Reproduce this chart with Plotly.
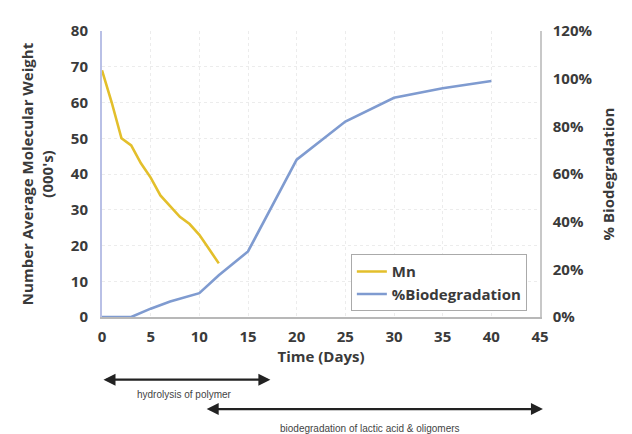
import plotly.graph_objects as go

mn_days = [0, 1, 2, 3, 4, 5, 6, 7, 8, 9, 10, 11, 12]
mn_values = [69, 60, 50, 48, 43, 39, 34, 31, 28, 26, 23, 19, 15]

bio_days = [0, 3, 5, 7, 10, 12, 15, 20, 25, 30, 35, 40]
bio_values = [0, 0, 0.035, 0.065, 0.10, 0.175, 0.275, 0.66, 0.82, 0.92, 0.96, 0.99]

x_ticks = [0, 5, 10, 15, 20, 25, 30, 35, 40, 45]
left_ticks = [0, 10, 20, 30, 40, 50, 60, 70, 80]
right_ticks = [0, 0.2, 0.4, 0.6, 0.8, 1.0, 1.2]

phase_labels = ["hydrolysis of polymer", "biodegradation of lactic acid & oligomers"]
phase_start = [0, 10.6]
phase_end = [17.3, 45.3]
label_centre = [8.5, 27.5]

FONT = "Open Sans"
TXT = "#3a3a3a"

fig = go.Figure()
fig.add_trace(go.Scatter(x=mn_days, y=mn_values, mode="lines", name="Mn",
                         line=dict(color="#e3bf2b", width=2.6)))
fig.add_trace(go.Scatter(x=bio_days, y=bio_values, mode="lines", name="%Biodegradation",
                         yaxis="y2", line=dict(color="#7f9bd0", width=2.6)))

arrow_y = [-0.219, -0.322]
text_y = [-0.272, -0.39]
for i in range(len(phase_labels)):
    fig.add_annotation(x=phase_end[i], y=arrow_y[i], xref="x", yref="paper",
                       ax=phase_start[i], ay=0, axref="x", ayref="pixel", text="",
                       showarrow=True, arrowhead=2, arrowside="end+start",
                       arrowwidth=2.4, arrowsize=1, arrowcolor="#222")
    fig.add_annotation(x=label_centre[i], y=text_y[i], xref="x", yref="paper",
                       yanchor="middle", text=phase_labels[i], showarrow=False,
                       font=dict(family="Liberation Sans", size=10, color="#444"))

fig.update_layout(
    width=624, height=426,
    margin=dict(l=94, r=92, t=17, b=117),
    paper_bgcolor="white", plot_bgcolor="white",
    font=dict(family=FONT, color=TXT, size=14),
    xaxis=dict(range=[0, 45], tickvals=x_ticks, showgrid=True,
               gridcolor="#ececec", griddash="dot", zeroline=False,
               showline=True, linecolor="#b8b8b8", linewidth=2,
               ticks="", ticklabelstandoff=5,
               tickfont=dict(size=15, weight="bold", color=TXT),
               title=dict(text="Time (Days)", font=dict(size=15, weight="bold"), standoff=4)),
    yaxis=dict(range=[0, 80], tickvals=left_ticks, showgrid=True,
               gridcolor="#ececec", griddash="dot", zeroline=False,
               showline=True, linecolor="#b9c0e6", linewidth=2, ticks="",
               ticklabelstandoff=9,
               tickfont=dict(size=15, weight="bold", color=TXT),
               title=dict(text="Number Average Molecular Weight<br>(000's)",
                          font=dict(size=15, weight="bold"), standoff=14)),
    yaxis2=dict(range=[0, 1.2], tickvals=right_ticks, tickformat=".0%",
                overlaying="y", side="right", showgrid=False, zeroline=False,
                showline=True, linecolor="#c8c8c8", linewidth=1.5, ticks="",
                ticklabelstandoff=8,
                tickfont=dict(size=15, weight="bold", color=TXT),
                title=dict(text="% Biodegradation", font=dict(size=15, weight="bold"), standoff=12)),
    legend=dict(x=0.97, y=0.02, xanchor="right", yanchor="bottom",
                bordercolor="#aaaaaa", borderwidth=1, bgcolor="white",
                font=dict(size=15, weight="bold", color=TXT),
                tracegroupgap=0, itemwidth=30),
    showlegend=True,
)

fig.write_html("out.html")
